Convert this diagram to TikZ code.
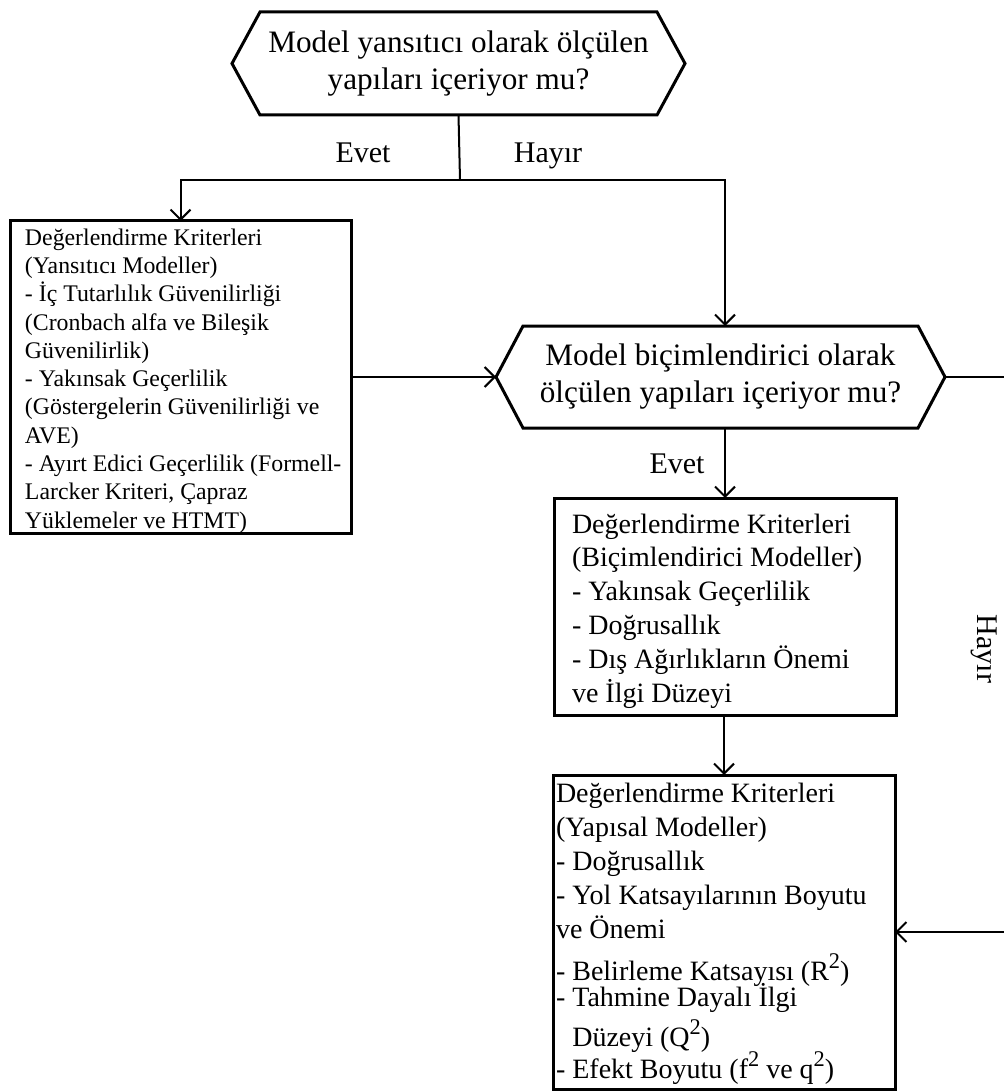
\documentclass[tikz,border=0pt]{standalone}
\usepackage{fontspec}
\setmainfont{Liberation Serif}
\usetikzlibrary{arrows.meta}
% raised exponent, a little larger than \textsuperscript
\newcommand\mysup[1]{\raisebox{0.42em}{\fontsize{11.2}{11.2}\selectfont #1}}
\begin{document}
\begin{tikzpicture}[x=0.5pt,y=-0.5pt,
  hexq/.style={inner sep=0pt, outer sep=0pt, align=center,
    font=\fontsize{15.6}{18.5}\selectfont},
  hexline/.style={line width=1.5pt, line join=miter},
  critbox/.style={draw, line width=1.5pt, outer sep=0pt, inner sep=0pt},
  crittext/.style={inner sep=0pt, outer sep=0pt, anchor=north west, align=left},
  lbl/.style={inner sep=0pt, font=\fontsize{15}{18}\selectfont},
  conn/.style={line width=1pt},
  arr/.style={line width=1pt, -{Straight Barb[length=5pt,width=10pt,line width=1pt]}}]
\useasboundingbox (0,0) rectangle (1003,1091);

% first decision
\node[hexq, minimum width=226.5pt, minimum height=51.5pt] (q1) at (458.5,63.5)
  {Model yansıtıcı olarak ölçülen\\yapıları içeriyor mu?};
\draw[hexline] (q1.west) -- ([xshift=14pt]q1.north west) -- ([xshift=-14pt]q1.north east)
  -- (q1.east) -- ([xshift=-14pt]q1.south east) -- ([xshift=14pt]q1.south west) -- cycle;

% second decision
\node[hexq, minimum width=224.5pt, minimum height=51pt] (q2) at (720.5,377)
  {Model biçimlendirici olarak\\ölçülen yapıları içeriyor mu?};
\draw[hexline] (q2.west) -- ([xshift=13.5pt]q2.north west) -- ([xshift=-13.5pt]q2.north east)
  -- (q2.east) -- ([xshift=-13.5pt]q2.south east) -- ([xshift=13.5pt]q2.south west) -- cycle;

% reflective criteria
\node[critbox, minimum width=170.5pt, minimum height=156pt] (b1) at (180.5,377) {};
\node[crittext, font=\fontsize{11.9}{14.15}\selectfont] (t1) at (25,228.6)
  {Değerlendirme Kriterleri\\
   (Yansıtıcı Modeller)\\
   - İç Tutarlılık Güvenilirliği\\
   (Cronbach alfa ve Bileşik\\
   Güvenilirlik)\\
   - Yakınsak Geçerlilik\\
   (Göstergelerin Güvenilirliği ve\\
   AVE)\\
   - Ayırt Edici Geçerlilik (Formell-\\
   Larcker Kriteri, Çapraz\\
   Yüklemeler ve HTMT)};

% formative criteria
\node[critbox, minimum width=171pt, minimum height=108.5pt] (b2) at (725,606.5) {};
\node[crittext, font=\fontsize{14}{16.9}\selectfont] (t2) at (572,513.7)
  {Değerlendirme Kriterleri\\
   (Biçimlendirici Modeller)\\
   - Yakınsak Geçerlilik\\
   - Doğrusallık\\
   - Dış Ağırlıkların Önemi\\
   ve İlgi Düzeyi};

% structural criteria
\node[critbox, minimum width=171pt, minimum height=157pt] (b3) at (724,932) {};
\node[crittext, font=\fontsize{14}{17}\selectfont] (t3) at (556,782.7)
  {Değerlendirme Kriterleri\\
   (Yapısal Modeller)\\
   - Doğrusallık\\
   - Yol Katsayılarının Boyutu\\
   ve Önemi\\[4pt]
   - Belirleme Katsayısı (R\mysup{2})\\[-4pt]
   - Tahmine Dayalı İlgi\\[3pt]
   \phantom{- }Düzeyi (Q\mysup{2})\\[-1pt]
   - Efekt Boyutu (f\mysup{2} ve q\mysup{2})};

% branch labels
\node[lbl, anchor=base] (e1) at (363,163) {Evet};
\node[lbl, anchor=base] (h1) at (548,163) {Hayır};
\node[lbl, anchor=base] (e2) at (677,473) {Evet};
\node[lbl, rotate=-90] (h2) at (984,649) {Hayır};

% connectors
\coordinate (jn) at (460,180);
\coordinate (xr) at (1030,0);
\draw[conn] (q1.south) -- (jn);
\draw[arr] (jn) -| (b1.north);
\draw[arr] (jn) -| (q2.north -| b2.north);
\draw[arr] (b1.east |- q2.west) -- (q2.west);
\draw[arr] (q2.south -| b2.north) -- (b2.north);
\draw[arr] (b2.south -| b3.north) -- (b3.north);
\draw[arr] (q2.east) -- (q2.east -| xr) -- (xr |- b3.east) -- (b3.east);
\end{tikzpicture}
\end{document}
